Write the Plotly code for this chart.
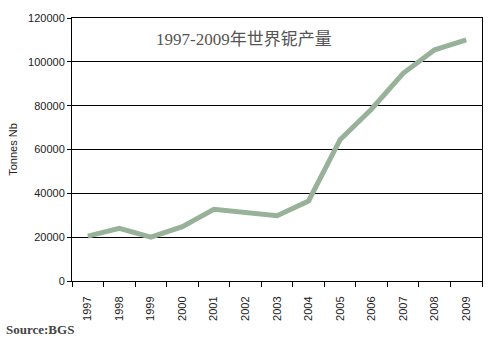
import plotly.graph_objects as go

years = ["1997", "1998", "1999", "2000", "2001", "2002", "2003",
         "2004", "2005", "2006", "2007", "2008", "2009"]
production = [20500, 24000, 20000, 24800, 32700, 31000, 29800,
              36500, 64500, 78500, 94800, 105500, 110000]
y_ticks = [0, 20000, 40000, 60000, 80000, 100000, 120000]

fig = go.Figure()
fig.add_trace(go.Scatter(
    x=years, y=production, mode="lines",
    line=dict(color="#98B29A", width=5),
    hoverinfo="x+y", showlegend=False,
))

fig.update_layout(
    width=496, height=339,
    margin=dict(l=71, r=14, t=16, b=58),
    paper_bgcolor="white", plot_bgcolor="white",
    font=dict(family="Arial, Liberation Sans, sans-serif", size=11, color="#222"),
    xaxis=dict(
        type="category", tickangle=-90, range=[-0.5, len(years) - 0.5],
        showline=True, linecolor="black", linewidth=1, mirror=True,
        ticks="outside", ticklen=5, tickcolor="black",
        tickson="boundaries", showgrid=False, ticklabelstandoff=10,
        tickfont=dict(size=11, color="#222"),
    ),
    yaxis=dict(
        range=[0, 120000], tickvals=y_ticks,
        ticktext=[str(v) for v in y_ticks],
        showline=True, linecolor="black", linewidth=1, mirror=True,
        ticks="outside", ticklen=4, tickcolor="black",
        showgrid=True, gridcolor="black", gridwidth=1,
        zeroline=False,
        title=dict(text="Tonnes Nb", font=dict(size=11, color="#222"), standoff=8),
        tickfont=dict(size=11, color="#222"),
    ),
    annotations=[
        dict(text="1997-2009年世界铌产量", x=243, y=38, xref="paper", yref="paper",
             showarrow=False, xanchor="center", yanchor="middle",
             font=dict(family="Liberation Serif, Noto Sans CJK SC, serif", size=17, color="#555")),
        dict(text="<b>Source:BGS</b>", x=3, y=330, xref="paper", yref="paper",
             showarrow=False, xanchor="left", yanchor="middle",
             font=dict(family="Liberation Serif, Times New Roman, serif", size=13, color="#444")),
    ],
)

# Convert the pixel-positioned annotations to paper coordinates
pw = 496 - 71 - 14
ph = 339 - 16 - 58
for a in fig.layout.annotations:
    a.x = (a.x - 71) / pw
    a.y = (339 - 58 - a.y) / ph

fig.write_html("out.html")
